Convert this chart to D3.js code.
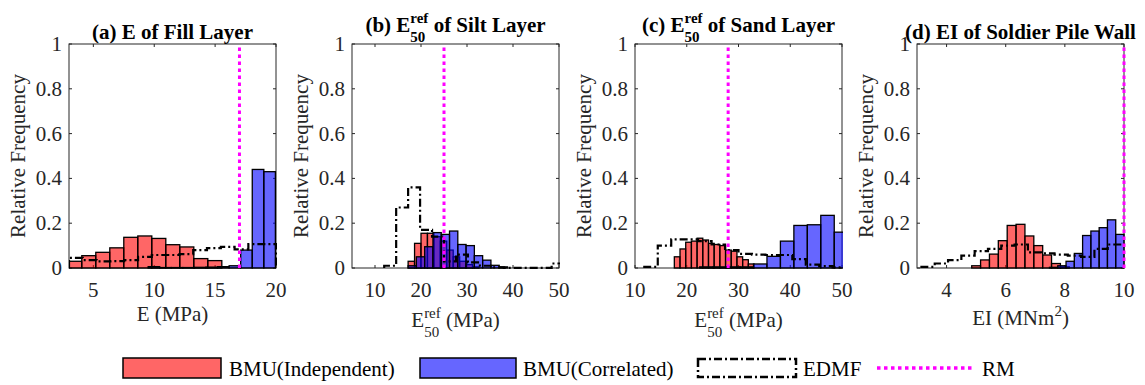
<!DOCTYPE html>
<html>
<head>
<meta charset="utf-8">
<script src="https://cdn.jsdelivr.net/npm/d3@7"></script>
<style>
  body { margin: 0; background: #fff; }
  svg { display: block; }
  svg text { font-family: "Liberation Serif", "Times New Roman", serif; }
</style>
</head>
<body>
<div id="viz"></div>
<script>
// ---- data (relative frequency per bin) ----
const yTicks = [0, 0.2, 0.4, 0.6, 0.8, 1];
const rmValues = [17, 25, 28, 10];

// (a) E of fill layer
const xDomainA = [3, 20];
const xTicksA = [5, 10, 15, 20];
const redEdgesA = [2.9, 4.05, 5.2, 6.35, 7.5, 8.65, 9.8, 10.95, 12.1, 13.25, 14.4, 15.55];
const redFreqA = [0.03, 0.055, 0.07, 0.09, 0.137, 0.143, 0.132, 0.104, 0.094, 0.042, 0.033];
const blueEdgesA = [9.5, 10.45, 11.4, 12.35, 13.3, 14.25, 15.2, 16.15, 17.1, 18.05, 19.0, 19.95];
const blueFreqA = [0.006, 0.002, 0.002, 0.002, 0.003, 0.004, 0.006, 0.01, 0.08, 0.44, 0.43];
const edmfEdgesA = [3, 4.13, 5.27, 6.4, 7.53, 8.67, 9.8, 10.93, 12.07, 13.2, 14.33, 15.47, 16.6, 17.73, 18.87, 20];
const edmfFreqA = [0.045, 0.035, 0.03, 0.031, 0.035, 0.05, 0.058, 0.058, 0.062, 0.08, 0.089, 0.094, 0.083, 0.107, 0.107];

// (b) E50ref of silt layer
const xDomainB = [5, 50];
const xTicksB = [10, 20, 30, 40, 50];
const redEdgesB = [17.2, 18.6, 20.0, 21.4, 22.8, 24.2, 25.6, 27.0, 28.4, 29.8, 31.2, 32.6];
const redFreqB = [0.03, 0.11, 0.155, 0.155, 0.14, 0.12, 0.08, 0.05, 0.03, 0.015, 0.005];
const blueEdgesB = [17.2, 19.0, 20.8, 22.6, 24.4, 26.2, 28.0, 29.8, 31.6, 33.4, 35.2, 37.0, 38.8];
const blueFreqB = [0.01, 0.05, 0.095, 0.158, 0.15, 0.165, 0.105, 0.1, 0.055, 0.035, 0.012, 0.005];
const edmfEdgesB = [12.0, 14.6, 17.2, 19.8, 22.4, 25.0, 27.6, 30.2, 32.8, 35.4, 38.0, 40.6, 43.2, 45.8, 48.4, 51.0];
const edmfFreqB = [0.01, 0.27, 0.36, 0.17, 0.14, 0.03, 0.06, 0.025, 0.01, 0.003, 0.001, 0.001, 0.001, 0.001, 0.02];

// (c) E50ref of sand layer
const xDomainC = [10, 50];
const xTicksC = [10, 20, 30, 40, 50];
const redEdgesC = [17.6, 18.7, 19.8, 20.9, 22.0, 23.1, 24.2, 25.3, 26.4, 27.5, 28.6, 29.7, 30.8, 31.9, 33.0];
const redFreqC = [0.05, 0.085, 0.115, 0.12, 0.133, 0.125, 0.11, 0.105, 0.1, 0.08, 0.075, 0.05, 0.037, 0.018];
const blueEdgesC = [22.5, 25.1, 27.7, 30.3, 32.9, 35.5, 38.1, 40.7, 43.3, 45.9, 48.5, 51.1];
const blueFreqC = [0.005, 0.005, 0.005, 0.005, 0.018, 0.052, 0.12, 0.19, 0.193, 0.235, 0.16];
const edmfEdgesC = [11.8, 14.4, 17.0, 19.6, 22.2, 24.8, 27.4, 30.0, 32.6, 35.2, 37.8, 40.4, 43.0, 45.6, 48.2, 50.8];
const edmfFreqC = [0.005, 0.1, 0.128, 0.128, 0.12, 0.105, 0.08, 0.063, 0.06, 0.058, 0.058, 0.04, 0.015, 0.008, 0.003];

// (d) EI of soldier pile wall
const xDomainD = [3, 10];
const xTicksD = [4, 6, 8, 10];
const redEdgesD = [4.85, 5.15, 5.45, 5.75, 6.05, 6.35, 6.65, 6.95, 7.25, 7.55, 7.85, 8.15];
const redFreqD = [0.01, 0.036, 0.062, 0.122, 0.19, 0.195, 0.143, 0.1, 0.058, 0.02, 0.005];
const blueEdgesD = [7.48, 7.76, 8.04, 8.32, 8.6, 8.88, 9.16, 9.44, 9.72, 10.0];
const blueFreqD = [0.003, 0.01, 0.03, 0.065, 0.145, 0.165, 0.18, 0.215, 0.15];
const edmfEdgesD = [3.15, 3.6, 4.05, 4.5, 4.95, 5.4, 5.85, 6.3, 6.75, 7.2, 7.65, 8.1, 8.55, 9.0, 9.45, 9.9, 10.35];
const edmfFreqD = [0.005, 0.02, 0.035, 0.055, 0.075, 0.085, 0.1, 0.105, 0.07, 0.065, 0.06, 0.055, 0.05, 0.085, 0.105, 0.105];

const legendLabels = ["BMU(Independent)", "BMU(Correlated)", "EDMF", "RM"];

// ---- layout ----
const W = 1145, H = 385;
const AX = "#262626";
const PLOT_TOP = 44, PLOT_BOTTOM = 268, PLOT_W = 207;
const PANEL_LEFT = [69, 352, 635, 917];
const FS = 21, FS_SMALL = 15;
const EDMF_DASH = "8,3,2,3";
const RM_DASH = "3.5,3.5";

const panels = [
  { title: [{ t: "(a) E of Fill Layer" }], titleY: 39,
    xlabel: [{ t: "E (MPa)" }], xlabelY: 321,
    domain: xDomainA, ticks: xTicksA,
    red: [redEdgesA, redFreqA], blue: [blueEdgesA, blueFreqA], edmf: [edmfEdgesA, edmfFreqA] },
  { title: [{ t: "(b) E" }, { sup: "ref", sub: "50" }, { t: " of Silt Layer" }], titleY: 32,
    xlabel: [{ t: "E" }, { sup: "ref", sub: "50" }, { t: " (MPa)" }], xlabelY: 327,
    domain: xDomainB, ticks: xTicksB,
    red: [redEdgesB, redFreqB], blue: [blueEdgesB, blueFreqB], edmf: [edmfEdgesB, edmfFreqB] },
  { title: [{ t: "(c) E" }, { sup: "ref", sub: "50" }, { t: " of Sand Layer" }], titleY: 32,
    xlabel: [{ t: "E" }, { sup: "ref", sub: "50" }, { t: " (MPa)" }], xlabelY: 327,
    domain: xDomainC, ticks: xTicksC,
    red: [redEdgesC, redFreqC], blue: [blueEdgesC, blueFreqC], edmf: [edmfEdgesC, edmfFreqC] },
  { title: [{ t: "(d) EI of Soldier Pile Wall" }], titleY: 39,
    xlabel: [{ t: "EI (MNm" }, { sup: "2" }, { t: ")" }], xlabelY: 325,
    domain: xDomainD, ticks: xTicksD,
    red: [redEdgesD, redFreqD], blue: [blueEdgesD, blueFreqD], edmf: [edmfEdgesD, edmfFreqD] }
];

const svg = d3.select("#viz").append("svg")
  .attr("width", W).attr("height", H);

// lays out plain / super+subscript pieces and centres them on cx
function richText(parent, cx, y, parts, weight) {
  const g = parent.append("g").attr("font-weight", weight || "normal");
  const color = weight ? "#000" : AX;
  let cursor = 0;
  parts.forEach(p => {
    if (p.t !== undefined) {
      const t = g.append("text").attr("x", cursor).attr("y", 0)
        .attr("font-size", FS).attr("fill", color)
        .style("white-space", "pre").text(p.t);
      cursor += t.node().getComputedTextLength();
    } else {
      let w = 0;
      if (p.sup) {
        const s = g.append("text").attr("x", cursor).attr("y", -9)
          .attr("font-size", FS_SMALL).attr("fill", color).text(p.sup);
        w = Math.max(w, s.node().getComputedTextLength());
      }
      if (p.sub) {
        const s = g.append("text").attr("x", cursor).attr("y", 10)
          .attr("font-size", FS_SMALL).attr("fill", color).text(p.sub);
        w = Math.max(w, s.node().getComputedTextLength());
      }
      cursor += w;
    }
  });
  g.attr("transform", `translate(${cx - cursor / 2},${y})`);
  return g;
}

const y = d3.scaleLinear().domain([0, 1]).range([PLOT_BOTTOM, PLOT_TOP]);

panels.forEach((p, i) => {
  const left = PANEL_LEFT[i];
  const x = d3.scaleLinear().domain(p.domain).range([left, left + PLOT_W]);
  const g = svg.append("g");
  const clipId = "clip" + i;
  svg.append("clipPath").attr("id", clipId).append("rect")
    .attr("x", left).attr("y", PLOT_TOP - 2).attr("width", PLOT_W + 1).attr("height", PLOT_BOTTOM - PLOT_TOP + 3);

  // axes box
  g.append("rect").attr("x", left).attr("y", PLOT_TOP)
    .attr("width", PLOT_W).attr("height", PLOT_BOTTOM - PLOT_TOP)
    .attr("fill", "none").attr("stroke", AX).attr("stroke-width", 1);

  // x ticks (inward, bottom + top)
  p.ticks.forEach(v => {
    const xv = x(v);
    g.append("line").attr("x1", xv).attr("x2", xv).attr("y1", PLOT_BOTTOM).attr("y2", PLOT_BOTTOM - 3)
      .attr("stroke", AX);
    g.append("line").attr("x1", xv).attr("x2", xv).attr("y1", PLOT_TOP).attr("y2", PLOT_TOP + 3)
      .attr("stroke", AX);
    g.append("text").attr("x", xv).attr("y", PLOT_BOTTOM + 29)
      .attr("text-anchor", "middle").attr("font-size", FS).attr("fill", AX).text(v);
  });

  // y ticks (inward, left + right)
  yTicks.forEach(v => {
    const yv = y(v);
    g.append("line").attr("x1", left).attr("x2", left + 3).attr("y1", yv).attr("y2", yv).attr("stroke", AX);
    g.append("line").attr("x1", left + PLOT_W).attr("x2", left + PLOT_W - 3).attr("y1", yv).attr("y2", yv).attr("stroke", AX);
    g.append("text").attr("x", left - 7).attr("y", yv + 7)
      .attr("text-anchor", "end").attr("font-size", FS).attr("fill", AX).text(d3.format("~g")(v));
  });

  // y label
  g.append("text")
    .attr("transform", `translate(${left - 44},${(PLOT_TOP + PLOT_BOTTOM) / 2}) rotate(-90)`)
    .attr("text-anchor", "middle").attr("font-size", FS).attr("fill", AX)
    .text("Relative Frequency");

  const data = g.append("g").attr("clip-path", `url(#${clipId})`);

  // histogram bars
  [[p.red, "#ff0000"], [p.blue, "#0000ff"]].forEach(([[edges, freq], color]) => {
    data.append("g").selectAll("rect").data(freq).join("rect")
      .attr("x", (d, k) => x(edges[k]))
      .attr("width", (d, k) => x(edges[k + 1]) - x(edges[k]))
      .attr("y", d => y(d))
      .attr("height", d => y(0) - y(d))
      .attr("fill", color).attr("fill-opacity", 0.6)
      .attr("stroke", "#000").attr("stroke-width", 1.3);
  });

  // EDMF stairs
  const [eEdges, eFreq] = p.edmf;
  const pts = [[eEdges[0], 0]];
  eFreq.forEach((f, k) => { pts.push([eEdges[k], f]); pts.push([eEdges[k + 1], f]); });
  pts.push([eEdges[eEdges.length - 1], 0]);
  data.append("path")
    .attr("d", d3.line().x(d => x(d[0])).y(d => y(d[1]))(pts))
    .attr("fill", "none").attr("stroke", "#000").attr("stroke-width", 2.2)
    .attr("stroke-dasharray", EDMF_DASH);

  // RM line
  g.append("line")
    .attr("x1", x(rmValues[i])).attr("x2", x(rmValues[i]))
    .attr("y1", y(0)).attr("y2", y(1))
    .attr("stroke", "#ff00ff").attr("stroke-width", 3)
    .attr("stroke-dasharray", RM_DASH);

  // title and x label
  richText(svg, left + PLOT_W / 2, p.titleY, p.title, "bold");
  richText(svg, left + PLOT_W / 2, p.xlabelY, p.xlabel);
});

// ---- legend ----
const lg = svg.append("g").attr("font-size", FS);
const LEG_Y = 358, LEG_H = 20, LEG_BASE = 376;
lg.append("rect").attr("x", 123).attr("y", LEG_Y).attr("width", 98).attr("height", LEG_H)
  .attr("fill", "#ff0000").attr("fill-opacity", 0.6).attr("stroke", "#000").attr("stroke-width", 1.5);
lg.append("text").attr("x", 229).attr("y", LEG_BASE).attr("fill", "#000").text(legendLabels[0]);
lg.append("rect").attr("x", 420).attr("y", LEG_Y).attr("width", 96).attr("height", LEG_H)
  .attr("fill", "#0000ff").attr("fill-opacity", 0.6).attr("stroke", "#000").attr("stroke-width", 1.5);
lg.append("text").attr("x", 523).attr("y", LEG_BASE).attr("fill", "#000").text(legendLabels[1]);
lg.append("rect").attr("x", 698).attr("y", LEG_Y + 1).attr("width", 98).attr("height", LEG_H - 2)
  .attr("fill", "none").attr("stroke", "#000").attr("stroke-width", 2.5).attr("stroke-dasharray", EDMF_DASH);
lg.append("text").attr("x", 803).attr("y", LEG_BASE).attr("fill", "#000").text(legendLabels[2]);
lg.append("line").attr("x1", 877).attr("x2", 973).attr("y1", 368).attr("y2", 368)
  .attr("stroke", "#ff00ff").attr("stroke-width", 3.5).attr("stroke-dasharray", RM_DASH);
lg.append("text").attr("x", 982).attr("y", LEG_BASE).attr("fill", "#000").text(legendLabels[3]);
</script>
</body>
</html>
